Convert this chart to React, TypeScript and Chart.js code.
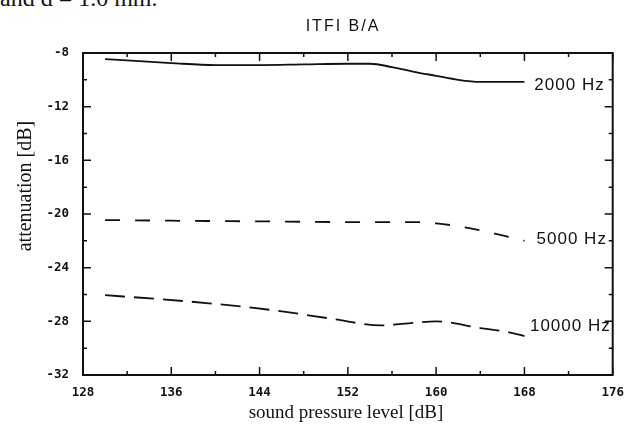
import { useEffect, useRef } from "react";
import { Chart, registerables } from "chart.js";

Chart.register(...registerables);

// ---- data ----
const spl2000 = [130, 136, 140, 144, 148, 152, 154, 156, 158, 160, 162, 164, 168];
const att2000 = [-8.45, -8.75, -8.9, -8.9, -8.85, -8.8, -8.8, -9.05, -9.4, -9.7, -10.0, -10.15, -10.15];

const spl5000 = [130, 136, 144, 152, 158, 160, 163, 166, 168];
const att5000 = [-20.45, -20.5, -20.55, -20.6, -20.6, -20.7, -21.05, -21.6, -22.0];

const spl10000 = [130, 135, 140, 145.5, 150.5, 155, 157.5, 160, 164, 166.5, 168];
const att10000 = [-26.05, -26.35, -26.7, -27.2, -27.8, -28.3, -28.15, -28.0, -28.5, -28.8, -29.1];

const seriesNames = ["2000 Hz", "5000 Hz", "10000 Hz"];
const xTickLabels = [128, 136, 144, 152, 160, 168, 176];
const yTickLabels = [-32, -28, -24, -20, -16, -12, -8];

const chartTitle = "ITFI B/A";
const xTitle = "sound pressure level [dB]";
const yTitle = "attenuation [dB]";
const captionTop = "and d = 1.0 mm.";

const pts = (xs: number[], ys: number[]) => xs.map((x, i) => ({ x, y: ys[i] }));

const framePlugin = {
  id: "framePlugin",
  afterDraw(chart: any) {
    const { ctx, chartArea } = chart;
    const xs = chart.scales.x;
    const ys = chart.scales.y;
    const { left, right, top, bottom } = chartArea;
    ctx.save();
    ctx.strokeStyle = "#111";
    ctx.lineWidth = 2;
    ctx.strokeRect(left, top, right - left, bottom - top);
    ctx.lineWidth = 1.5;
    ctx.beginPath();
    for (let v = 128; v <= 176; v += 4) {
      const px = xs.getPixelForValue(v);
      const len = v % 8 === 0 ? 8 : 4;
      ctx.moveTo(px, bottom);
      ctx.lineTo(px, bottom - len);
      ctx.moveTo(px, top);
      ctx.lineTo(px, top + len);
    }
    for (let v = -32; v <= -8; v += 2) {
      const py = ys.getPixelForValue(v);
      const len = v % 4 === 0 ? 8 : 4;
      ctx.moveTo(left, py);
      ctx.lineTo(left + len, py);
      ctx.moveTo(right, py);
      ctx.lineTo(right - len, py);
    }
    ctx.stroke();

    // title
    ctx.fillStyle = "#111";
    ctx.font = "16px 'Liberation Sans', Arial, sans-serif";
    (ctx as any).letterSpacing = "2px";
    ctx.textAlign = "center";
    ctx.textBaseline = "middle";
    ctx.fillText(chartTitle, 343, 27);

    // series labels
    ctx.font = "17px 'Liberation Sans', Arial, sans-serif";
    (ctx as any).letterSpacing = "1px";
    ctx.textAlign = "left";
    const lbl = [
      { t: seriesNames[0], x: 168.9, y: -10.4 },
      { t: seriesNames[1], x: 169.1, y: -21.9 },
      { t: seriesNames[2], x: 168.5, y: -28.4 },
    ];
    lbl.forEach((l) => {
      ctx.fillText(l.t, xs.getPixelForValue(l.x), ys.getPixelForValue(l.y));
    });
    (ctx as any).letterSpacing = "0px";

    // axis titles
    ctx.font = "19px 'Liberation Serif', 'Times New Roman', serif";
    ctx.textAlign = "center";
    ctx.fillText(xTitle, 346, 413);
    ctx.save();
    ctx.translate(26, 186);
    ctx.rotate(-Math.PI / 2);
    ctx.font = "20px 'Liberation Serif', 'Times New Roman', serif";
    ctx.fillText(yTitle, 0, 0);
    ctx.restore();
    ctx.restore();
  },
};

export default function App() {
  const ref = useRef<HTMLCanvasElement>(null);
  useEffect(() => {
    if (!ref.current) return;
    const lineBase = {
      borderColor: "#111",
      borderWidth: 1.8,
      pointRadius: 0,
      fill: false,
      cubicInterpolationMode: "monotone" as const,
    };
    const tickFont = { family: "'DejaVu Sans Mono', monospace", size: 12.5, weight: "bold" as const };
    const chart = new Chart(ref.current, {
      type: "line",
      data: {
        datasets: [
          { ...lineBase, label: seriesNames[0], data: pts(spl2000, att2000) },
          { ...lineBase, label: seriesNames[1], data: pts(spl5000, att5000), borderDash: [15, 15] },
          { ...lineBase, label: seriesNames[2], data: pts(spl10000, att10000), borderDash: [20, 9] },
        ],
      },
      options: {
        animation: false,
        responsive: false,
        layout: { padding: { top: 53, right: 21, left: 0, bottom: 0 } },
        plugins: { legend: { display: false }, title: { display: false }, tooltip: { enabled: false } },
        scales: {
          x: {
            type: "linear",
            min: 128,
            max: 176,
            grid: { display: false, drawTicks: false },
            border: { display: false },
            afterFit: (s: any) => { s.height = 57; },
            afterBuildTicks: (s: any) => { s.ticks = xTickLabels.map((v) => ({ value: v })); },
            ticks: { padding: 10, color: "#111", font: tickFont, maxRotation: 0 },
          },
          y: {
            type: "linear",
            min: -32,
            max: -8,
            grid: { display: false, drawTicks: false },
            border: { display: false },
            afterFit: (s: any) => { s.width = 83; },
            afterBuildTicks: (s: any) => { s.ticks = yTickLabels.map((v) => ({ value: v })); },
            ticks: { padding: 14, color: "#111", font: tickFont },
          },
        },
      },
      plugins: [framePlugin],
    });
    return () => chart.destroy();
  }, []);
  return (
    <div style={{ position: "fixed", left: 0, top: 0, width: 634, height: 432, background: "#fff", overflow: "hidden" }}>
      <div
        style={{
          position: "absolute",
          left: 0,
          top: -14,
          fontFamily: "'Liberation Serif', 'Times New Roman', serif",
          fontSize: 24,
          color: "#111",
          whiteSpace: "nowrap",
          lineHeight: "24px",
        }}
      >
        {captionTop}
      </div>
      <canvas ref={ref} width={634} height={432} style={{ position: "absolute", left: 0, top: 0 }} />
    </div>
  );
}
